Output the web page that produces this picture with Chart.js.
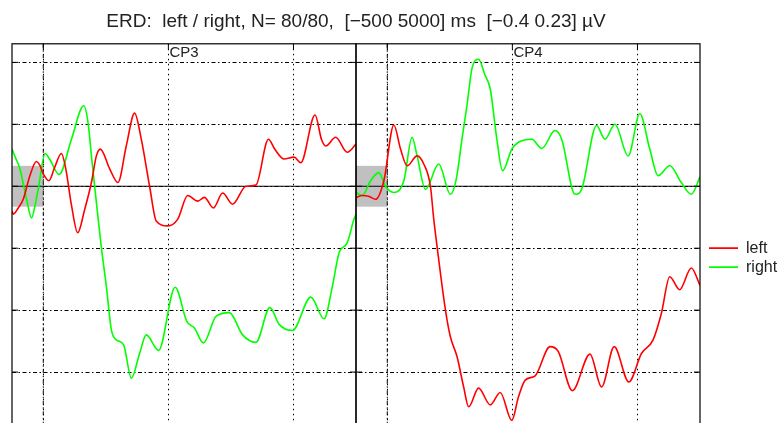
<!DOCTYPE html>
<html>
<head>
<meta charset="utf-8">
<script src="https://cdn.jsdelivr.net/npm/chart.js@4.4.1/dist/chart.umd.min.js"></script>
<style>
html, body { margin: 0; padding: 0; background: #fff; overflow: hidden; }
#wrap { position: relative; width: 780px; height: 436px; }
</style>
</head>
<body>
<div id="wrap"><canvas id="erd"></canvas></div>
<script>
// Panneaux, graduations et fenetre de reference
const panels = ["CP3", "CP4"];
const timeTicks = [0, 2000, 4000];
const levelTicks = [-0.3, -0.2, -0.1, 0, 0.1, 0.2];
const baseline = [-500, 0];       // ms
const baseBand = [-0.033, 0.033]; // uV

// CP3 - left (rouge)
const cp3LeftT = [-500, -480, -400, -320, -214, -110, -60, 0, 90, 180, 290, 360, 450, 550, 663, 770, 849, 913, 1062, 1194, 1327, 1460, 1567, 1700, 1806, 1990, 2150, 2310, 2470, 2576, 2720, 2868, 3027, 3240, 3400, 3600, 3700, 3851, 4011, 4117, 4345, 4450, 4516, 4675, 4861, 5000];
const cp3LeftV = [-0.040, -0.045, -0.035, -0.021, 0.017, 0.040, 0.035, 0.020, 0.009, 0.030, 0.053, 0.028, -0.030, -0.075, -0.037, 0.006, 0.049, 0.060, 0.028, 0.006, 0.065, 0.118, 0.076, 0.000, -0.056, -0.064, -0.053, -0.015, -0.024, -0.018, -0.035, -0.011, -0.029, 0.000, 0.002, 0.076, 0.060, 0.044, 0.047, 0.038, 0.115, 0.075, 0.065, 0.079, 0.055, 0.068];

// CP3 - right (vert)
const cp3RightT = [-500, -440, -373, -267, -187, -130, -81, 30, 100, 254, 451, 647, 720, 770, 849, 929, 1009, 1089, 1168, 1285, 1408, 1540, 1646, 1843, 2109, 2294, 2417, 2560, 2762, 2975, 3187, 3400, 3623, 3772, 3984, 4277, 4489, 4622, 4728, 4861, 4968, 5000];
const cp3RightV = [0.060, 0.045, 0.028, -0.021, -0.051, -0.030, -0.005, 0.053, 0.044, 0.019, 0.076, 0.130, 0.100, 0.049, -0.026, -0.099, -0.162, -0.232, -0.248, -0.256, -0.310, -0.270, -0.240, -0.265, -0.163, -0.218, -0.229, -0.253, -0.210, -0.204, -0.240, -0.252, -0.196, -0.223, -0.233, -0.179, -0.214, -0.162, -0.108, -0.091, -0.053, -0.045];

// CP4 - left (rouge)
const cp4LeftT = [-500, -400, -300, -187, -54, 105, 212, 318, 477, 583, 690, 743, 796, 929, 1009, 1115, 1221, 1301, 1460, 1647, 1806, 1991, 2098, 2205, 2364, 2603, 2735, 2959, 3241, 3426, 3628, 3862, 4064, 4250, 4383, 4516, 4675, 4861, 5000];
const cp4LeftV = [-0.018, -0.015, -0.016, -0.021, 0.009, 0.099, 0.060, 0.033, 0.049, 0.036, 0.000, -0.053, -0.097, -0.199, -0.243, -0.275, -0.324, -0.356, -0.326, -0.353, -0.333, -0.378, -0.340, -0.313, -0.306, -0.259, -0.267, -0.330, -0.271, -0.324, -0.259, -0.316, -0.270, -0.248, -0.205, -0.146, -0.167, -0.132, -0.160];

// CP4 - right (vert)
const cp4RightT = [-500, -400, -266, -134, -27, 105, 265, 397, 477, 610, 823, 1009, 1100, 1200, 1274, 1354, 1460, 1560, 1647, 1752, 1843, 1991, 2098, 2310, 2469, 2683, 2788, 3002, 3107, 3346, 3480, 3640, 3851, 4038, 4197, 4330, 4516, 4701, 4861, 5000];
const cp4RightV = [-0.010, -0.015, 0.009, 0.022, 0.000, -0.010, 0.009, 0.079, 0.049, -0.005, 0.036, -0.013, 0.010, 0.080, 0.130, 0.190, 0.205, 0.180, 0.157, 0.076, 0.025, 0.060, 0.071, 0.076, 0.061, 0.090, 0.076, -0.013, -0.005, 0.098, 0.076, 0.100, 0.049, 0.117, 0.060, 0.017, 0.033, 0.006, -0.013, 0.015];

const RED = "#ff0000";
const GREEN = "#00ff00";
const FONT = '"Liberation Sans", Arial, sans-serif';

function pts(t, v) {
    return t.map((x, i) => ({ x: x, y: v[i] }));
}

function courbe(label, t, v, color, axis) {
    return {
        label: label,
        data: pts(t, v),
        xAxisID: axis,
        yAxisID: "y",
        borderColor: color,
        backgroundColor: color,
        borderWidth: 1.6,
        pointRadius: 0,
        fill: false,
        cubicInterpolationMode: "monotone"
    };
}

// Axe temps d'un panneau (les deux sont empiles cote a cote)
function axeTemps() {
    return {
        type: "linear",
        position: "bottom",
        stack: "panels",
        stackWeight: 1,
        min: baseline[0],
        max: 5000,
        ticks: { display: false },
        grid: { color: "#000", lineWidth: 1, drawTicks: false },
        border: { display: false, dash: [1.5, 3.5] },
        afterBuildTicks: s => { s.ticks = timeTicks.map(v => ({ value: v })); }
    };
}

// Cadres, zone grise, ligne zero, petites graduations et noms des panneaux
const cadres = {
    id: "cadres",
    beforeDatasetsDraw(chart) {
        const ctx = chart.ctx;
        const y = chart.scales.y;
        const area = chart.chartArea;
        ctx.save();
        ["x1", "x2"].forEach(id => {
            const x = chart.scales[id];
            const l = x.getPixelForValue(baseline[0]);
            const r = x.getPixelForValue(baseline[1]);
            const t = y.getPixelForValue(baseBand[1]);
            const b = y.getPixelForValue(baseBand[0]);
            ctx.fillStyle = "#c0c0c0";
            ctx.fillRect(l, t, r - l, b - t);
            // t = 0 en tiret-point
            ctx.strokeStyle = "#000";
            ctx.lineWidth = 1;
            ctx.setLineDash([4, 2.5, 1.5, 2.5]);
            ctx.beginPath();
            ctx.moveTo(r, area.top);
            ctx.lineTo(r, area.bottom);
            ctx.stroke();
        });
        const y0 = y.getPixelForValue(0);
        ctx.setLineDash([]);
        ctx.strokeStyle = "#000";
        ctx.lineWidth = 1;
        ctx.beginPath();
        ctx.moveTo(area.left, y0);
        ctx.lineTo(area.right, y0);
        ctx.stroke();
        ctx.restore();
    },
    afterDatasetsDraw(chart) {
        const ctx = chart.ctx;
        const y = chart.scales.y;
        const area = chart.chartArea;
        ctx.save();
        ctx.strokeStyle = "#000";
        ctx.setLineDash([]);
        ["x1", "x2"].forEach((id, i) => {
            const x = chart.scales[id];
            ctx.lineWidth = 1.2;
            ctx.strokeRect(x.left, area.top, x.right - x.left, area.bottom - area.top);
            ctx.lineWidth = 1;
            ctx.beginPath();
            levelTicks.forEach(v => {
                const py = y.getPixelForValue(v);
                ctx.moveTo(x.left, py); ctx.lineTo(x.left + 6, py);
                ctx.moveTo(x.right - 6, py); ctx.lineTo(x.right, py);
            });
            timeTicks.forEach(v => {
                const px = x.getPixelForValue(v);
                ctx.moveTo(px, area.top); ctx.lineTo(px, area.top + 6);
            });
            ctx.stroke();
            ctx.fillStyle = "#222";
            ctx.font = "15px " + FONT;
            ctx.textAlign = "center";
            ctx.textBaseline = "top";
            ctx.fillText(panels[i], (x.left + x.right) / 2, area.top + 2);
        });
        ctx.restore();
    }
};

new Chart(document.getElementById("erd"), {
    type: "line",
    data: {
        datasets: [
            courbe("left", cp3LeftT, cp3LeftV, RED, "x1"),
            courbe("right", cp3RightT, cp3RightV, GREEN, "x1"),
            courbe("left", cp4LeftT, cp4LeftV, RED, "x2"),
            courbe("right", cp4RightT, cp4RightV, GREEN, "x2")
        ]
    },
    options: {
        responsive: true,
        maintainAspectRatio: false,
        animation: false,
        layout: { padding: { left: 12, right: 0, top: 0, bottom: 2 } },
        scales: {
            x1: axeTemps(),
            x2: axeTemps(),
            y: {
                position: "left",
                min: -0.4,
                max: 0.23,
                ticks: { display: false },
                grid: { color: "#000", lineWidth: 1, drawTicks: false },
                border: { display: false, dash: [4, 2.5, 1.5, 2.5] },
                afterBuildTicks: s => { s.ticks = levelTicks.map(v => ({ value: v })); }
            },
            y2: {
                position: "right",
                ticks: { display: false },
                grid: { drawOnChartArea: false, drawTicks: true, tickLength: 6, tickColor: "rgba(0,0,0,0)" },
                border: { display: false }
            }
        },
        plugins: {
            title: {
                display: true,
                fullSize: false,
                text: "ERD:  left / right, N= 80/80,  [\u2212500 5000] ms  [\u22120.4 0.23] \u00b5V",
                color: "#222",
                font: { family: FONT, size: 19, weight: "normal" },
                padding: { top: 10, bottom: 11 }
            },
            legend: {
                position: "right",
                align: "center",
                fullSize: false,
                maxWidth: 74,
                title: { display: true, text: "", font: { size: 12 }, padding: { top: 11, bottom: 12 } },
                labels: {
                    usePointStyle: true,
                    pointStyle: "line",
                    pointStyleWidth: 29,
                    padding: 3,
                    color: "#222",
                    font: { family: FONT, size: 16 },
                    filter: item => item.datasetIndex < 2
                }
            },
            tooltip: { enabled: false }
        }
    },
    plugins: [cadres]
});
</script>
</body>
</html>
